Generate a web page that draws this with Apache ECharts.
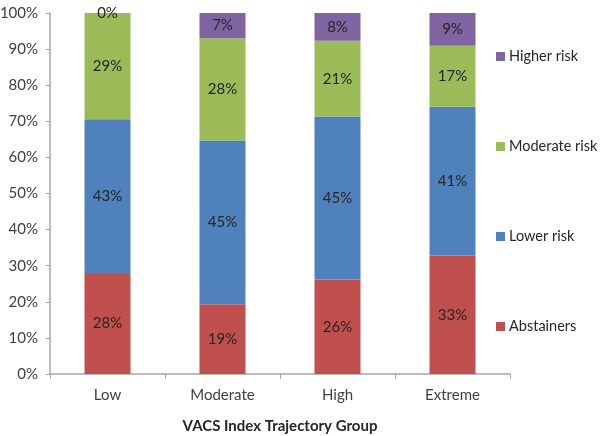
<!DOCTYPE html>
<html><head><meta charset="utf-8">
<script src="https://cdn.jsdelivr.net/npm/echarts@6/dist/echarts.min.js"></script>
<style>html,body{margin:0;padding:0;background:#fff}#c{width:600px;height:436px}</style>
</head><body><div id="c"></div>
<script>
const categories = ['Low', 'Moderate', 'High', 'Extreme'];
const abstainers = [28.0, 19.3, 26.2, 32.8];
const lowerRisk = [42.6, 45.4, 45.1, 41.2];
const moderateRisk = [29.4, 28.3, 21.0, 16.9];
const higherRisk = [0, 7.0, 7.7, 9.1];
const seriesNames = ['Abstainers', 'Lower risk', 'Moderate risk', 'Higher risk'];
const colors = ['#C0504D', '#4F81BD', '#9BBB59', '#8064A2'];
const values = [abstainers, lowerRisk, moderateRisk, higherRisk];
const FONT = 'Lato';

const chart = echarts.init(document.getElementById('c'));
chart.setOption({
  animation: false,
  textStyle: {fontFamily: FONT},
  grid: {left: 50, right: 90, top: 13, bottom: 62, outerBoundsMode: 'none', containLabel: false},
  legend: {
    orient: 'vertical', left: 491, top: 44, itemGap: 75,
    itemWidth: 9, itemHeight: 9, icon: 'rect',
    data: ['Higher risk', 'Moderate risk', 'Lower risk', 'Abstainers'],
    textStyle: {fontFamily: FONT, fontSize: 14.5, color: '#262626', padding: [0, 0, 0, -1]}
  },
  xAxis: {
    type: 'category', data: categories,
    name: 'VACS Index Trajectory Group', nameLocation: 'middle', nameGap: 45,
    nameTextStyle: {fontFamily: FONT, fontSize: 15, fontWeight: 'bold', color: '#262626'},
    axisLine: {lineStyle: {color: '#A6A6A6', width: 1.5}},
    axisTick: {show: true, length: 5, lineStyle: {color: '#A6A6A6'}},
    axisLabel: {fontFamily: FONT, fontSize: 15, color: '#404040', margin: 14}
  },
  yAxis: {
    type: 'value', min: 0, max: 100, interval: 10,
    axisLine: {show: true, lineStyle: {color: '#A6A6A6', width: 1.5}},
    axisTick: {show: true, length: 4, lineStyle: {color: '#A6A6A6'}},
    splitLine: {show: false},
    axisLabel: {fontFamily: FONT, fontSize: 15, color: '#404040', margin: 12, formatter: '{value}%'}
  },
  series: values.map((v, i) => ({
    name: seriesNames[i], type: 'bar', stack: 'total', data: v,
    barWidth: '40%',
    itemStyle: {color: colors[i]},
    label: {show: true, position: 'inside', fontFamily: FONT, fontSize: 15, color: '#262626',
      formatter: p => Math.round(p.value) + '%'}
  }))
});
</script></body></html>
